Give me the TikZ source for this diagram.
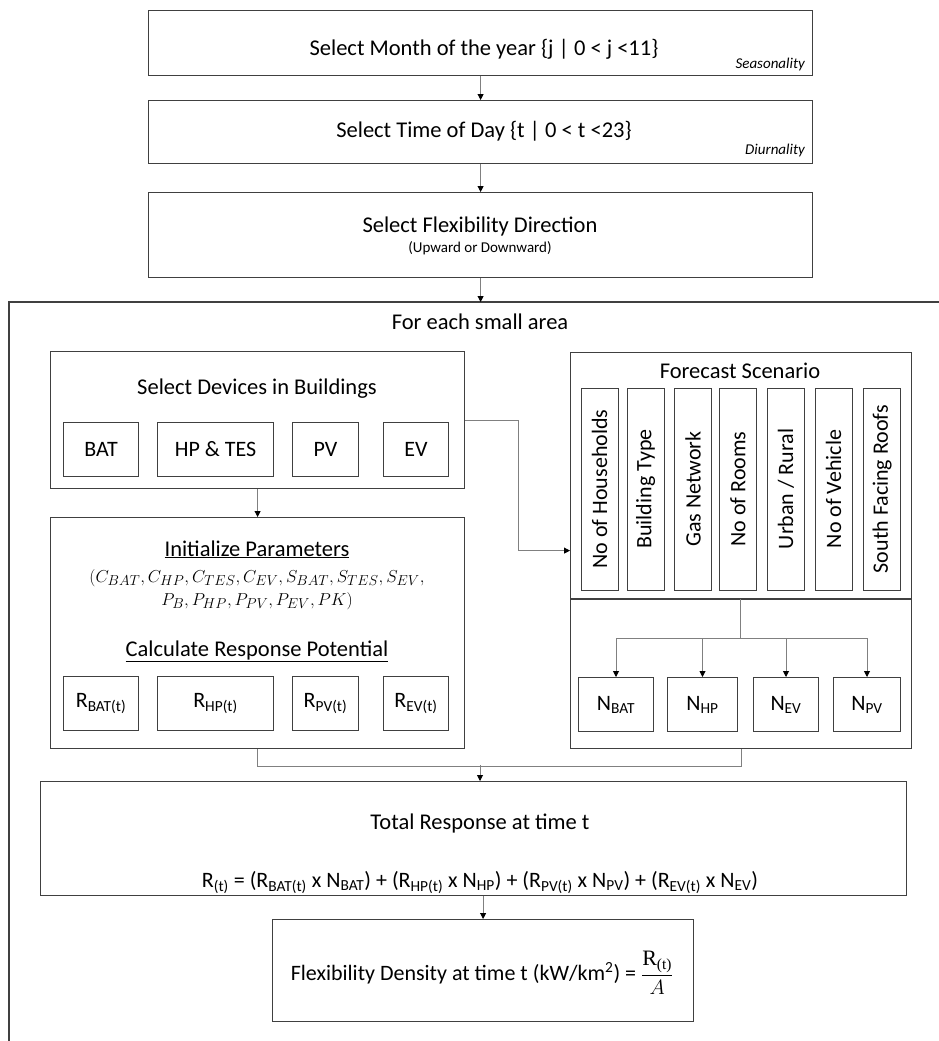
\documentclass[tikz,border=0pt]{standalone}
\usepackage{fontspec}
\setmainfont{Carlito}
\newfontfamily\serifR{Liberation Serif}
\usetikzlibrary{arrows.meta,calc}
\definecolor{boxc}{HTML}{404040}
\definecolor{linec}{HTML}{808080}
\tikzset{
  box/.style={draw=boxc, line width=1.2pt, inner sep=0pt, anchor=north west},
  ibox/.style={draw=boxc, line width=1pt, inner sep=0pt, anchor=north west, font=\fontsize{22}{25}\selectfont},
  vbox/.style={draw=boxc, line width=1pt, inner sep=0pt, rotate=90, minimum width=202pt, minimum height=37pt, font=\fontsize{22}{25}\selectfont},
  conn/.style={draw=linec, line width=0.9pt},
  arr/.style={conn, -{Triangle[length=6pt,width=6pt,color=black]}},
  lbl/.style={font=\fontsize{22.5}{26}\selectfont, inner sep=0pt, anchor=base},
  sml/.style={font=\fontsize{15}{17}\selectfont, inner sep=0pt, anchor=base},
}
\begin{document}
\begin{tikzpicture}[x=1pt,y=-1pt]
\useasboundingbox (0,0) rectangle (939,1041);
% top boxes
\node[box, minimum width=664pt, minimum height=65pt] (b1) at (148,10) {};
\node[lbl] (t1) at (484,56) {Select Month of the year \{j | 0 < j <11\}};
\node[sml, anchor=base east, font=\fontsize{15}{17}\selectfont\itshape] (s1) at (805,68) {Seasonality};
\node[box, minimum width=664pt, minimum height=63pt] (b2) at (148,100) {};
\node[lbl] (t2) at (484,137) {Select Time of Day \{t | 0 < t <23\}};
\node[sml, anchor=base east, font=\fontsize{15}{17}\selectfont\itshape] (s2) at (805,154) {Diurnality};
\node[box, minimum width=664pt, minimum height=85pt] (b3) at (148,192) {};
\node[lbl] (t3) at (480,232) {Select Flexibility Direction};
\node[sml] (s3) at (480,252) {(Upward or Downward)};
\draw[arr] (b1.south) -- (b2.north);
\draw[arr] (b2.south) -- (b3.north);
% container
\coordinate (cr) at (939,302);
\coordinate (ctl) at (9,302);
\coordinate (cbl) at (9,1041);
\draw[draw=boxc, line width=1.2pt] (cr) -- (ctl) -- (cbl);
\draw[arr] (b3.south) -- (b3.south |- ctl);
\node[lbl] (t4) at (480,329) {For each small area};
% devices
\node[box, minimum width=414pt, minimum height=137pt] (dev) at (50,351) {};
\node[lbl] (t5) at (257,394) {Select Devices in Buildings};
\node[ibox, minimum width=75pt, minimum height=54pt] (bat) at (63,422) {BAT};
\node[ibox, minimum width=116pt, minimum height=54pt] (hp) at (157,422) {HP \& TES};
\node[ibox, minimum width=66pt, minimum height=54pt] (pv) at (292,422) {PV};
\node[ibox, minimum width=65pt, minimum height=54pt] (ev) at (383,422) {EV};
% parameters
\node[box, minimum width=414pt, minimum height=231pt] (par) at (50,517) {};
\draw[arr] (dev.south) -- (par.north);
\node[lbl] (t6) at (257,556) {\underline{Initialize Parameters}};
\node[lbl, font=\fontsize{19}{22}\selectfont] (t7) at (257,582) {$(C_{BAT}, C_{HP}, C_{TES}, C_{EV}, S_{BAT}, S_{TES}, S_{EV},$};
\node[lbl, font=\fontsize{19}{22}\selectfont] (t8) at (257,605) {$P_{B}, P_{HP}, P_{PV}, P_{EV}, PK)$};
\node[lbl] (t9) at (257,656) {\underline{Calculate Response Potential}};
\node[ibox, minimum width=75pt, minimum height=54pt] (rbat) at (63,676) {R\textsubscript{BAT(t)}};
\node[ibox, minimum width=116pt, minimum height=54pt] (rhp) at (157,676) {R\textsubscript{HP(t)}};
\node[ibox, minimum width=66pt, minimum height=54pt] (rpv) at (292,676) {R\textsubscript{PV(t)}};
\node[ibox, minimum width=65pt, minimum height=54pt] (rev) at (383,676) {R\textsubscript{EV(t)}};
% forecast
\node[box, minimum width=341pt, minimum height=396pt] (fc) at (570,352) {};
\coordinate (dl) at (570,599);
\coordinate (dr) at (911,599);
\draw[draw=boxc, line width=1.2pt] (dl) -- (dr);
\node[lbl] (t10) at (740,378) {Forecast Scenario};
\node[vbox] (v1) at (599.5,489) {No of Households};
\node[vbox] (v2) at (645.5,489) {Building Type};
\node[vbox] (v3) at (693,489) {Gas Network};
\node[vbox] (v4) at (738,489) {No of Rooms};
\node[vbox] (v5) at (786,489) {Urban / Rural};
\node[vbox] (v6) at (833.5,489) {No of Vehicle};
\node[vbox] (v7) at (882,489) {South Facing Roofs};
\draw[arr] (dev.east) -- ++(53,0) |- (fc.west);
% N boxes
\node[ibox, minimum width=75pt, minimum height=54pt] (nbat) at (578,677) {N\textsubscript{BAT}};
\node[ibox, minimum width=70pt, minimum height=54pt] (nhp) at (667,677) {N\textsubscript{HP}};
\node[ibox, minimum width=65pt, minimum height=54pt] (nev) at (753,677) {N\textsubscript{EV}};
\node[ibox, minimum width=67pt, minimum height=54pt] (npv) at (833,677) {N\textsubscript{PV}};
\coordinate (split) at (740,599);
\draw[arr] (split) -- ++(0,39) -| (nbat.north);
\draw[arr] (split) -- ++(0,39) -| (nhp.north);
\draw[arr] (split) -- ++(0,39) -| (nev.north);
\draw[arr] (split) -- ++(0,39) -| (npv.north);
% total
\node[box, minimum width=866pt, minimum height=114pt] (tot) at (40,781) {};
\coordinate (merge) at (480,765);
\draw[conn] (par.south) -- ++(0,17) -| (fc.south);
\draw[arr] (merge) -- (merge |- tot.north);
\node[lbl] (t11) at (480,829) {Total Response at time t};
\node[lbl, font=\fontsize{22}{25}\selectfont] (t12) at (480,887) {R\textsubscript{(t)} = (R\textsubscript{BAT(t)} x N\textsubscript{BAT}) + (R\textsubscript{HP(t)} x N\textsubscript{HP}) + (R\textsubscript{PV(t)} x N\textsubscript{PV}) + (R\textsubscript{EV(t)} x N\textsubscript{EV})};
% flex
\node[box, minimum width=421pt, minimum height=102pt] (flex) at (272,919) {};
\draw[arr] (flex.north |- tot.south) -- (flex.north);
\node[lbl, font=\fontsize{22}{25}\selectfont] (t13) at (482,980) {Flexibility Density at time t (kW/km\textsuperscript{2}) = $\displaystyle\frac{\mbox{\serifR\fontsize{22}{25}\selectfont R\textsubscript{(t)}}}{A}$};
\end{tikzpicture}
\end{document}
